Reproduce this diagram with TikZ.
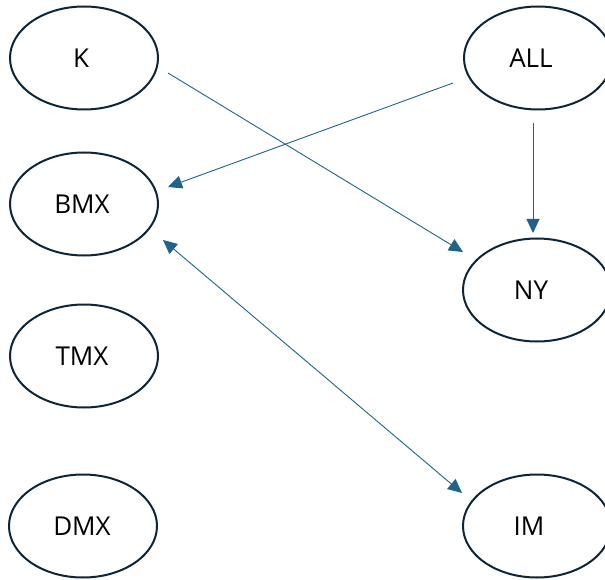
\documentclass[tikz,border=0pt]{standalone}
\usepackage{fontspec}
\setmainfont{Open Sans}
\usetikzlibrary{arrows.meta,shapes.geometric}
\definecolor{ringcol}{HTML}{0E2538}
\definecolor{linkcol}{HTML}{1F6389}
\begin{document}
\begin{tikzpicture}[x=1pt,y=-1pt,
  var/.style={ellipse,draw=ringcol,line width=2pt,minimum width=148pt,
    minimum height=103pt,inner sep=0pt,font=\fontsize{26}{30}\selectfont},
  link/.style={draw=linkcol,line width=0.9pt,-{Triangle[length=14pt,width=13pt]}},
  duallink/.style={link,{Triangle[length=14pt,width=13pt]}-{Triangle[length=14pt,width=13pt]}}]
\useasboundingbox (0,0) rectangle (605,580);
% variables, left column (labels sit a little left of centre)
\node[var] (K)   at (84,58)  {K\kern6pt};
\node[var] (BMX) at (84,204) {BMX\kern4pt};
\node[var] (TMX) at (84,356) {TMX\kern4pt};
\node[var] (DMX) at (83,526) {DMX\kern2pt};
% variables, right column
\node[var] (ALL) at (538,58) {ALL\kern14pt};
\node[var] (NY)  at (537,290) {NY\kern12pt};
\node[var] (IM)  at (537,526) {IM\kern16pt};
% connectors
\draw[link] ([shift={(84,15)}]K.center) -- ([shift={(-74,-38)}]NY.center);
\draw[link] ([shift={(-85,25)}]ALL.center) -- ([shift={(84,-17)}]BMX.center);
\draw[link] ([shift={(-5,65)}]ALL.center) -- ([shift={(-4,-57)}]NY.center);
\draw[duallink] ([shift={(79,36)}]BMX.center) -- ([shift={(-75,-33)}]IM.center);
\end{tikzpicture}
\end{document}
